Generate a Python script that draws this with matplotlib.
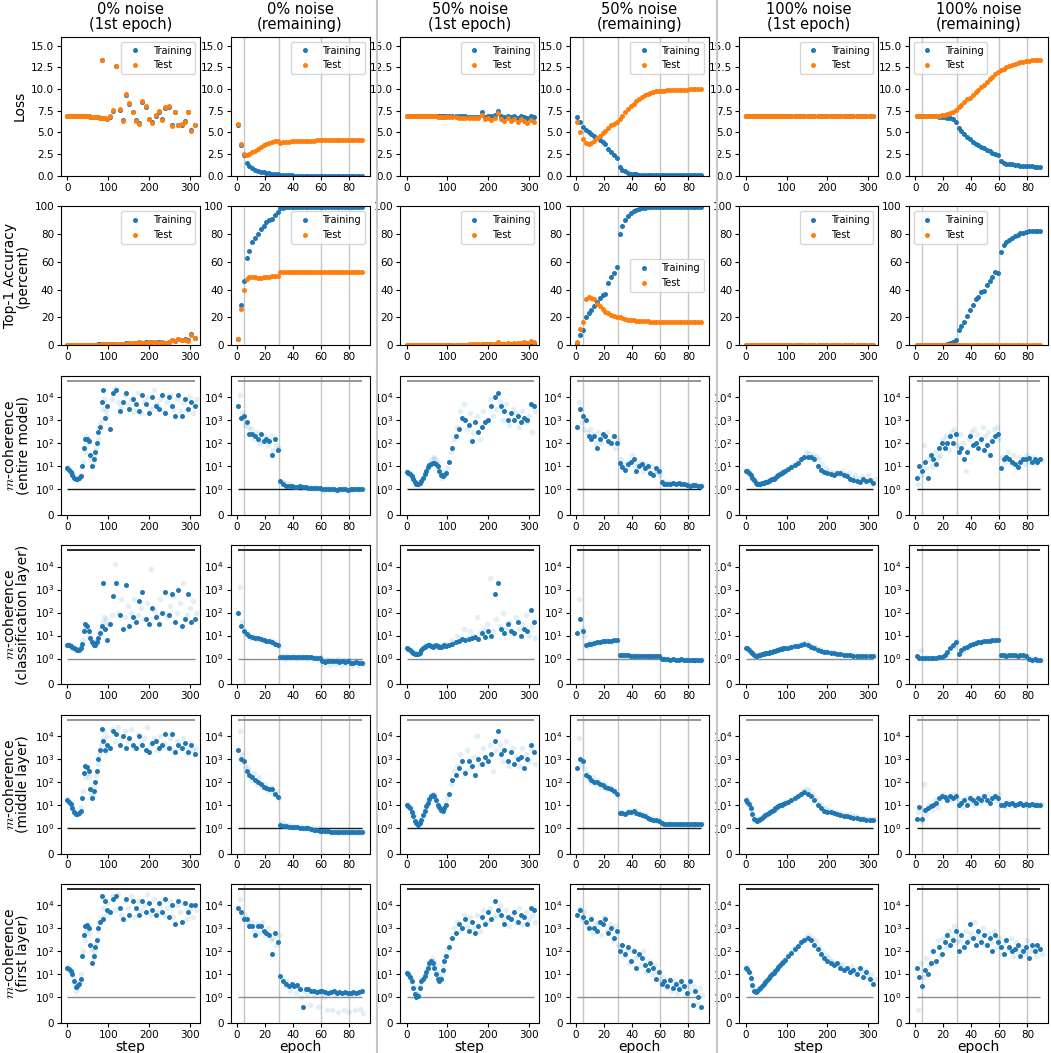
import matplotlib.pyplot as plt
import numpy as np

plt.rcParams['mathtext.fontset'] = 'cm'

# x grids: training steps in the 1st epoch, epochs afterwards
steps = list(range(0, 100, 4)) + list(range(104, 313, 8))
steps_mid = list(range(2, 100, 4)) + list(range(108, 317, 8))
epochs = list(range(1, 90, 2))
epochs_mid = list(range(2, 91, 2))
lr_epochs = [5, 30, 60, 80]
coh_floor = 1
coh_ceiling = 5e4

col_titles = ['0% noise\n(1st epoch)', '0% noise\n(remaining)',
              '50% noise\n(1st epoch)', '50% noise\n(remaining)',
              '100% noise\n(1st epoch)', '100% noise\n(remaining)']
row_labels = ['Loss', 'Top-1 Accuracy\n(percent)',
              '$m$-coherence\n(entire model)', '$m$-coherence\n(classification layer)',
              '$m$-coherence\n(middle layer)', '$m$-coherence\n(first layer)']

# ---------------- loss ----------------
loss_train_0_ep1 = [
    6.93, 6.93, 6.92, 6.92, 6.92, 6.91, 6.90, 6.90, 6.89, 6.88,
    6.87, 6.86, 6.85, 6.84, 6.82, 6.80, 6.78, 6.76, 6.74, 6.72,
    6.70, 13.3, 6.65, 6.60, 6.55, 6.80, 7.50, 12.7, 7.60, 6.40,
    9.30, 8.30, 7.30, 6.40, 6.10, 8.50, 7.90, 6.50, 6.20, 6.90,
    7.40, 6.50, 7.80, 7.90, 5.80, 7.30, 5.90, 5.90, 6.30, 7.30,
    5.30, 5.90]
loss_test_0_ep1 = [
    6.93, 6.93, 6.92, 6.92, 6.92, 6.91, 6.90, 6.90, 6.89, 6.88,
    6.87, 6.86, 6.85, 6.84, 6.82, 6.80, 6.78, 6.76, 6.74, 6.72,
    6.70, 13.3, 6.65, 6.60, 6.55, 6.90, 7.60, 12.7, 7.70, 6.30,
    9.40, 8.40, 7.40, 6.30, 6.00, 8.60, 8.00, 6.50, 6.10, 7.00,
    7.50, 6.40, 7.90, 8.00, 5.70, 7.40, 5.80, 6.00, 6.20, 7.40,
    5.20, 5.80]
loss_train_0_rest = [
    5.9, 3.5, 2.4, 1.5, 1.1, 0.9, 0.7, 0.55, 0.45, 0.38,
    0.32, 0.28, 0.25, 0.2, 0.15, 0.05, 0.04, 0.03, 0.03, 0.03,
    0.02, 0.02, 0.02, 0.02, 0.02, 0.02, 0.02, 0.02, 0.02, 0.02,
    0.02, 0.02, 0.02, 0.02, 0.02, 0.02, 0.02, 0.02, 0.02, 0.02,
    0.02, 0.02, 0.02, 0.02, 0.02]
loss_test_0_rest = [
    6.0, 3.7, 2.5, 2.4, 2.5, 2.7, 2.9, 3.1, 3.3, 3.5,
    3.6, 3.8, 3.9, 4.0, 4.05, 3.8, 3.85, 3.9, 3.92, 3.95,
    3.97, 4.0, 4.0, 4.02, 4.03, 4.05, 4.05, 4.06, 4.07, 4.08,
    4.1, 4.1, 4.1, 4.1, 4.1, 4.1, 4.1, 4.1, 4.1, 4.1,
    4.1, 4.1, 4.1, 4.1, 4.1]
loss_train_50_ep1 = [
    6.93, 6.93, 6.93, 6.93, 6.93, 6.92, 6.92, 6.92, 6.92, 6.92,
    6.92, 6.91, 6.91, 6.91, 6.91, 6.91, 6.90, 6.90, 6.90, 6.90,
    6.90, 6.89, 6.89, 6.89, 6.88, 6.88, 6.87, 6.86, 6.85, 6.84,
    6.83, 6.82, 6.80, 6.78, 6.80, 7.30, 6.80, 6.90, 6.85, 6.95,
    7.50, 6.90, 6.80, 6.90, 6.80, 6.90, 6.70, 6.90, 6.80, 6.70,
    6.90, 6.80]
loss_test_50_ep1 = [
    6.93, 6.93, 6.92, 6.92, 6.92, 6.91, 6.91, 6.90, 6.90, 6.89,
    6.88, 6.88, 6.87, 6.86, 6.86, 6.85, 6.84, 6.84, 6.83, 6.82,
    6.81, 6.80, 6.79, 6.78, 6.77, 6.75, 6.73, 6.72, 6.70, 6.68,
    6.66, 6.64, 6.62, 6.60, 6.60, 7.00, 6.50, 6.70, 6.40, 6.60,
    7.20, 6.50, 6.30, 6.60, 6.30, 6.50, 6.20, 6.50, 6.30, 6.10,
    6.40, 6.20]
loss_train_50_rest = [
    6.8, 6.2, 5.6, 5.3, 5.0, 4.8, 4.6, 4.4, 4.1, 3.9,
    3.7, 3.1, 2.7, 2.4, 2.1, 1.0, 0.7, 0.5, 0.35, 0.25,
    0.2, 0.15, 0.12, 0.1, 0.09, 0.08, 0.07, 0.06, 0.06, 0.05,
    0.04, 0.04, 0.04, 0.04, 0.04, 0.04, 0.04, 0.04, 0.04, 0.04,
    0.04, 0.04, 0.04, 0.04, 0.04]
loss_test_50_rest = [
    6.2, 5.0, 4.2, 3.8, 3.7, 3.8, 4.0, 4.3, 4.6, 4.9,
    5.2, 5.5, 5.8, 6.0, 6.2, 6.5, 6.9, 7.3, 7.7, 8.0,
    8.3, 8.6, 8.85, 9.05, 9.25, 9.4, 9.55, 9.65, 9.72, 9.78,
    9.8, 9.82, 9.84, 9.85, 9.87, 9.88, 9.9, 9.9, 9.92, 9.93,
    9.94, 9.95, 9.95, 9.95, 9.95]
loss_train_100_ep1 = [
    6.92, 6.92, 6.92, 6.92, 6.91, 6.91, 6.91, 6.91, 6.91, 6.91,
    6.91, 6.91, 6.91, 6.91, 6.91, 6.91, 6.91, 6.91, 6.91, 6.91,
    6.91, 6.91, 6.91, 6.91, 6.91, 6.91, 6.91, 6.91, 6.91, 6.91,
    6.91, 6.91, 6.91, 6.91, 6.91, 6.91, 6.91, 6.91, 6.91, 6.91,
    6.91, 6.91, 6.91, 6.91, 6.91, 6.91, 6.91, 6.91, 6.91, 6.91,
    6.91, 6.91]
loss_test_100_ep1 = [
    6.91, 6.91, 6.91, 6.91, 6.91, 6.91, 6.91, 6.91, 6.91, 6.91,
    6.91, 6.91, 6.91, 6.91, 6.91, 6.91, 6.91, 6.91, 6.91, 6.91,
    6.91, 6.91, 6.91, 6.91, 6.91, 6.91, 6.91, 6.91, 6.91, 6.91,
    6.91, 6.91, 6.91, 6.91, 6.91, 6.91, 6.91, 6.91, 6.91, 6.91,
    6.91, 6.91, 6.91, 6.91, 6.91, 6.91, 6.91, 6.91, 6.91, 6.91,
    6.91, 6.91]
loss_train_100_rest = [
    6.9, 6.9, 6.9, 6.9, 6.9, 6.9, 6.88, 6.85, 6.82, 6.8,
    6.75, 6.7, 6.6, 6.5, 6.2, 5.5, 5.1, 4.8, 4.5, 4.2,
    3.9, 3.7, 3.5, 3.3, 3.2, 3.0, 2.8, 2.6, 2.5, 2.4,
    1.7, 1.5, 1.4, 1.35, 1.3, 1.25, 1.2, 1.15, 1.12, 1.1,
    1.08, 1.07, 1.06, 1.05, 1.05]
loss_test_100_rest = [
    6.9, 6.9, 6.9, 6.9, 6.9, 6.9, 6.9, 6.9, 6.92, 7.0,
    7.05, 7.15, 7.25, 7.4, 7.6, 7.9, 8.2, 8.5, 8.8, 9.0,
    9.3, 9.6, 9.9, 10.2, 10.5, 10.8, 11.1, 11.4, 11.7, 12.0,
    12.2, 12.35, 12.5, 12.65, 12.8, 12.9, 13.0, 13.1, 13.15, 13.2,
    13.25, 13.3, 13.3, 13.3, 13.3]

# ---------------- top-1 accuracy ----------------
acc_train_0_ep1 = [
    0.1, 0.1, 0.1, 0.1, 0.1, 0.1, 0.2, 0.2, 0.2, 0.2,
    0.3, 0.3, 0.3, 0.4, 0.4, 0.4, 0.5, 0.5, 0.5, 0.6,
    0.6, 0.7, 0.7, 0.8, 0.8, 0.9, 1.0, 1.1, 1.2, 1.2,
    1.4, 1.5, 1.6, 1.7, 2.0, 1.9, 2.0, 2.6, 2.2, 2.4,
    2.1, 2.4, 1.8, 2.6, 3.5, 3.0, 4.2, 3.6, 4.2, 3.5,
    8.0, 5.2]
acc_test_0_ep1 = [
    0.1, 0.1, 0.1, 0.1, 0.1, 0.1, 0.1, 0.2, 0.2, 0.2,
    0.2, 0.3, 0.3, 0.3, 0.3, 0.4, 0.4, 0.4, 0.5, 0.5,
    0.5, 0.6, 0.6, 0.6, 0.7, 0.7, 0.8, 0.9, 1.0, 1.0,
    1.2, 1.3, 1.4, 1.5, 2.5, 1.6, 1.8, 2.5, 2.0, 2.3,
    1.9, 2.2, 1.5, 2.5, 3.8, 2.7, 4.5, 3.5, 4.0, 3.2,
    7.5, 5.0]
acc_train_0_rest = [
    4.5, 29, 46, 63, 68, 74, 77, 80, 84, 86,
    89, 90, 91, 94, 96, 98.5, 99, 99.3, 99.5, 99.6,
    99.6, 99.7, 99.7, 99.7, 99.7, 99.7, 99.7, 99.7, 99.7, 99.7,
    99.7, 99.7, 99.7, 99.7, 99.7, 99.7, 99.7, 99.7, 99.7, 99.7,
    99.7, 99.7, 99.7, 99.7, 99.7]
acc_test_0_rest = [
    4.5, 26, 40, 48, 49, 49, 49, 48.5, 48.5, 49,
    49, 49, 49.5, 49.5, 50, 52.5, 53, 53, 53, 53,
    53, 53, 53, 53, 53, 53, 53, 53, 53, 53,
    53, 53, 53, 53, 53, 53, 53, 53, 53, 53,
    53, 53, 53, 53, 53]
acc_train_50_ep1 = [
    0.1, 0.1, 0.1, 0.1, 0.1, 0.1, 0.1, 0.1, 0.1, 0.1,
    0.1, 0.1, 0.1, 0.1, 0.1, 0.2, 0.2, 0.2, 0.2, 0.2,
    0.2, 0.2, 0.2, 0.3, 0.3, 0.3, 0.3, 0.3, 0.4, 0.4,
    0.4, 0.4, 0.5, 0.5, 0.5, 0.6, 0.6, 0.6, 0.7, 0.8,
    1.5, 0.8, 0.9, 1.0, 0.9, 1.1, 1.2, 1.0, 1.3, 1.1,
    1.5, 1.2]
acc_test_50_ep1 = [
    0.1, 0.1, 0.1, 0.1, 0.1, 0.1, 0.1, 0.1, 0.1, 0.1,
    0.1, 0.1, 0.1, 0.1, 0.1, 0.2, 0.2, 0.2, 0.2, 0.2,
    0.2, 0.2, 0.3, 0.3, 0.3, 0.3, 0.4, 0.4, 0.5, 0.5,
    0.5, 0.6, 0.6, 0.7, 0.7, 0.8, 0.8, 0.9, 0.9, 1.0,
    2.0, 1.0, 1.2, 1.3, 1.1, 1.5, 1.6, 1.3, 2.2, 1.5,
    3.0, 2.0]
acc_train_50_rest = [
    1, 7, 11, 20, 23, 25, 28, 31, 34, 36,
    37, 45, 49, 52, 56, 80, 86, 90, 93, 95,
    96.5, 97.5, 98, 98.5, 99, 99.2, 99.2, 99.3, 99.3, 99.3,
    99.4, 99.4, 99.4, 99.4, 99.4, 99.5, 99.5, 99.5, 99.5, 99.5,
    99.5, 99.5, 99.5, 99.5, 99.5]
acc_test_50_rest = [
    2, 12, 17, 33, 35, 34, 33, 30, 28, 26,
    24, 23, 22, 21, 20, 20, 19.5, 19, 18.5, 18,
    17.8, 17.6, 17.5, 17.3, 17.2, 17.1, 17, 17, 17, 17,
    17, 17, 17, 17, 17, 17, 17, 17, 17, 17,
    17, 17, 17, 17, 17]
acc_train_100_ep1 = [
    0.1, 0.1, 0.1, 0.1, 0.1, 0.1, 0.1, 0.1, 0.1, 0.1,
    0.1, 0.1, 0.1, 0.1, 0.1, 0.1, 0.1, 0.1, 0.1, 0.1,
    0.1, 0.1, 0.1, 0.1, 0.1, 0.1, 0.1, 0.1, 0.1, 0.1,
    0.1, 0.1, 0.1, 0.1, 0.1, 0.1, 0.1, 0.1, 0.1, 0.1,
    0.1, 0.1, 0.1, 0.1, 0.1, 0.1, 0.1, 0.1, 0.1, 0.1,
    0.1, 0.1]
acc_test_100_ep1 = [
    0.1, 0.1, 0.1, 0.1, 0.1, 0.1, 0.1, 0.1, 0.1, 0.1,
    0.1, 0.1, 0.1, 0.1, 0.1, 0.1, 0.1, 0.1, 0.1, 0.1,
    0.1, 0.1, 0.1, 0.1, 0.1, 0.1, 0.1, 0.1, 0.1, 0.1,
    0.1, 0.1, 0.1, 0.1, 0.1, 0.1, 0.1, 0.1, 0.1, 0.1,
    0.1, 0.1, 0.1, 0.1, 0.1, 0.1, 0.1, 0.1, 0.1, 0.1,
    0.1, 0.1]
acc_train_100_rest = [
    0.1, 0.1, 0.1, 0.1, 0.1, 0.1, 0.1, 0.1, 0.1, 0.1,
    0.5, 1, 1.5, 2, 4, 11, 14, 17, 21, 25,
    29, 33, 35, 38, 39, 43, 46, 49, 53, 52,
    67, 72, 74, 76, 77, 78.5, 79.5, 80.5, 81, 81.5,
    82, 82, 82.3, 82.5, 82.5]
acc_test_100_rest = [
    0.1, 0.1, 0.1, 0.1, 0.1, 0.1, 0.1, 0.1, 0.1, 0.1,
    0.1, 0.1, 0.1, 0.1, 0.1, 0.1, 0.1, 0.1, 0.1, 0.1,
    0.1, 0.1, 0.1, 0.1, 0.1, 0.1, 0.1, 0.1, 0.1, 0.1,
    0.1, 0.1, 0.1, 0.1, 0.1, 0.1, 0.1, 0.1, 0.1, 0.1,
    0.1, 0.1, 0.1, 0.1, 0.1]

# ---------------- m-coherence (log10), dark = mean, lt = faint samples ----------------
# entire model
coh_model_0_ep1 = [
    0.9, 0.85, 0.75, 0.6, 0.5, 0.45, 0.45, 0.5, 0.55, 1.0,
    1.8, 2.2, 2.2, 2.1, 1.5, 1.0, 1.3, 1.6, 2.0, 2.5,
    2.7, 3.8, 4.3, 3.1, 3.6, 2.6, 4.2, 4.3, 3.4, 3.8,
    4.2, 3.5, 3.9, 3.7, 3.4, 4.1, 3.7, 3.3, 4.0, 3.6,
    3.5, 4.1, 3.3, 4.0, 3.6, 3.2, 4.1, 3.2, 3.9, 3.5,
    3.8, 3.6]
coh_model_0_ep1_lt = [
    0.95, 0.8, 0.7, 0.65, 0.45, 0.5, 0.4, 0.55, 0.6, 1.2,
    1.6, 2.3, 2.0, 2.2, 1.3, 1.1, 1.5, 1.8, 2.2, 2.7,
    2.9, 3.5, 3.9, 3.4, 3.2, 3.9, 4.4, 3.8, 3.6, 4.1,
    3.7, 3.9, 3.4, 4.2, 3.3, 3.8, 4.0, 3.5, 4.3, 3.7,
    3.9, 3.4, 3.8, 4.1, 3.5, 3.9, 3.4, 3.8, 3.5, 4.0,
    3.3, 3.9]
coh_model_0_rest = [
    3.6, 3.1, 3.2, 2.9, 2.4, 2.4, 2.3, 2.2, 2.4, 2.1,
    2.2, 2.1, 1.5, 2.2, 1.7, 0.35, 0.2, 0.15, 0.15, 0.12,
    0.1, 0.1, 0.12, 0.08, 0.1, 0.05, 0.05, 0.05, 0.03, 0.03,
    0.0, 0.02, 0.0, 0.01, 0.0, -0.01, 0.0, 0.01, 0.0, -0.01,
    0.0, 0.01, 0.0, 0.0, 0.02]
coh_model_0_rest_lt = [
    4.1, 3.3, 2.8, 2.7, 2.6, 2.2, 2.5, 2.0, 2.1, 2.3,
    1.9, 2.3, 1.7, 1.9, 1.8, 0.3, 0.25, 0.1, 0.2, 0.15,
    0.08, 0.15, 0.05, 0.12, 0.06, 0.1, 0.02, 0.08, 0.0, 0.05,
    -0.03, 0.04, -0.02, 0.03, -0.03, 0.02, -0.02, 0.03, -0.02, 0.02,
    -0.03, 0.03, -0.02, 0.02, 0.0]
coh_model_50_ep1 = [
    0.75, 0.72, 0.65, 0.55, 0.42, 0.3, 0.22, 0.2, 0.25, 0.35,
    0.5, 0.65, 0.8, 0.95, 1.05, 1.1, 1.15, 1.15, 1.1, 1.0,
    0.8, 0.6, 0.55, 0.6, 0.7, 1.2, 1.8, 2.3, 2.6, 3.1,
    3.0, 2.8, 2.1, 2.9, 2.5, 2.7, 2.9, 3.0, 3.6, 4.0,
    4.2, 3.6, 3.4, 3.0, 3.3, 3.0, 3.2, 2.9, 3.1, 3.0,
    3.7, 3.6]
coh_model_50_ep1_lt = [
    0.8, 0.7, 0.68, 0.5, 0.45, 0.28, 0.25, 0.18, 0.28, 0.4,
    0.55, 0.7, 0.85, 1.0, 1.15, 1.3, 1.4, 1.3, 1.2, 0.9,
    0.7, 0.5, 0.6, 0.75, 0.9, 1.6, 2.2, 2.7, 3.4, 3.7,
    2.6, 3.3, 2.5, 3.2, 2.2, 3.4, 3.0, 3.9, 3.2, 3.5,
    3.8, 3.0, 3.7, 2.8, 3.5, 3.3, 2.7, 3.4, 2.9, 3.2,
    2.5, 3.4]
coh_model_50_rest = [
    2.7, 3.5, 3.2, 3.0, 2.3, 2.2, 2.3, 1.8, 2.2, 2.4,
    2.3, 2.1, 2.0, 2.3, 2.0, 1.15, 0.95, 0.85, 1.1, 1.2,
    1.3, 0.8, 1.0, 1.1, 0.9, 1.0, 0.7, 0.6, 0.9, 0.8,
    0.3, 0.22, 0.2, 0.22, 0.25, 0.22, 0.25, 0.2, 0.22, 0.18,
    0.15, 0.17, 0.16, 0.15, 0.15]
coh_model_50_rest_lt = [
    3.8, 2.9, 2.6, 2.5, 2.6, 2.4, 2.0, 2.5, 2.0, 2.3,
    2.5, 2.0, 2.3, 1.8, 2.2, 1.3, 1.1, 0.9, 1.2, 1.5,
    1.0, 1.1, 1.2, 0.8, 1.1, 0.8, 1.0, 0.7, 0.8, 0.6,
    0.35, 0.25, 0.3, 0.2, 0.28, 0.2, 0.26, 0.22, 0.2, 0.2,
    0.18, 0.15, 0.18, 0.14, 0.16]
coh_model_100_ep1 = [
    0.8, 0.78, 0.72, 0.62, 0.5, 0.38, 0.28, 0.22, 0.2, 0.22,
    0.25, 0.28, 0.3, 0.33, 0.36, 0.4, 0.42, 0.45, 0.5, 0.55,
    0.6, 0.65, 0.7, 0.75, 0.8, 0.88, 0.95, 1.05, 1.15, 1.3,
    1.4, 1.4, 1.38, 1.3, 1.0, 0.85, 0.75, 0.7, 0.65, 0.6,
    0.7, 0.7, 0.6, 0.55, 0.45, 0.4, 0.35, 0.3, 0.45, 0.35,
    0.4, 0.25]
coh_model_100_ep1_lt = [
    0.82, 0.75, 0.7, 0.6, 0.48, 0.36, 0.3, 0.24, 0.22, 0.25,
    0.27, 0.3, 0.33, 0.36, 0.4, 0.43, 0.46, 0.5, 0.55, 0.6,
    0.65, 0.7, 0.75, 0.8, 0.85, 0.95, 1.05, 1.15, 1.25, 1.4,
    1.6, 1.55, 1.5, 1.45, 1.3, 1.1, 0.9, 0.8, 0.7, 0.75,
    0.6, 0.8, 0.65, 0.7, 0.5, 0.6, 0.45, 0.55, 0.35, 0.6,
    0.3, 0.45]
coh_model_100_rest = [
    0.5, 1.0, 0.8, 1.2, 0.5, 1.5, 1.3, 1.1, 1.8, 2.0,
    1.8, 2.0, 2.3, 2.0, 2.4, 1.6, 1.8, 1.3, 1.6, 2.3,
    1.9, 2.0, 1.8, 2.2, 1.7, 1.9, 1.5, 2.1, 2.3, 2.4,
    0.9, 1.3, 1.4, 1.3, 1.2, 1.1, 0.95, 1.2, 1.3, 1.3,
    1.35, 1.2, 1.3, 1.2, 1.3]
coh_model_100_rest_lt = [
    0.2, 0.6, 1.9, 0.9, 1.3, 1.0, 1.6, 1.4, 1.5, 2.2,
    2.3, 1.7, 2.5, 2.6, 1.9, 2.4, 2.0, 0.8, 2.2, 2.5,
    2.6, 2.4, 2.1, 2.7, 2.3, 2.5, 2.1, 2.6, 2.7, 2.2,
    1.4, 1.2, 1.6, 1.1, 1.5, 1.0, 1.4, 1.3, 1.1, 1.5,
    1.2, 1.4, 1.1, 1.3, 1.25]

# classification layer
coh_cls_0_ep1 = [
    0.6, 0.58, 0.55, 0.5, 0.45, 0.4, 0.35, 0.35, 0.45, 0.65,
    1.2, 1.5, 1.4, 1.2, 0.9, 0.7, 0.6, 0.6, 0.7, 0.9,
    1.1, 1.4, 3.3, 1.3, 0.8, 1.5, 2.7, 3.3, 1.9, 1.3,
    3.2, 1.4, 1.8, 1.6, 2.5, 2.9, 1.7, 1.5, 2.2, 1.8,
    1.5, 2.0, 2.9, 1.9, 2.8, 1.6, 3.0, 1.4, 1.7, 2.8,
    1.6, 1.7]
coh_cls_0_ep1_lt = [
    0.62, 0.6, 0.52, 0.48, 0.42, 0.38, 0.38, 0.4, 0.5, 0.8,
    1.3, 1.4, 1.3, 1.0, 0.8, 0.65, 0.7, 0.75, 0.9, 1.1,
    1.3, 1.6, 1.8, 1.7, 1.5, 1.9, 4.1, 2.0, 2.6, 1.8,
    2.3, 2.0, 2.6, 1.9, 2.2, 1.7, 2.4, 3.9, 2.1, 1.9,
    2.6, 2.0, 1.8, 2.3, 2.7, 2.0, 2.4, 3.3, 1.9, 2.2,
    2.5, 2.0]
coh_cls_0_rest = [
    2.0, 1.4, 1.2, 1.05, 1.0, 0.95, 0.9, 0.88, 0.85, 0.82,
    0.78, 0.75, 0.7, 0.65, 0.6, 0.05, 0.06, 0.05, 0.08, 0.06,
    0.05, 0.07, 0.06, 0.05, 0.06, 0.05, 0.05, 0.04, 0.03, 0.03,
    -0.05, -0.06, -0.05, -0.05, -0.04, -0.05, -0.06, -0.05, -0.06, -0.05,
    -0.08, -0.08, -0.07, -0.08, -0.08]
coh_cls_0_rest_lt = [
    3.1, 1.6, 1.1, 1.1, 0.9, 1.0, 0.85, 0.9, 0.8, 0.85,
    0.75, 0.8, 0.65, 0.7, 0.55, 0.1, 0.0, 0.12, 0.02, 0.1,
    0.0, 0.12, 0.01, 0.1, 0.0, 0.08, 0.0, 0.06, -0.02, 0.05,
    -0.12, 0.0, -0.12, -0.02, -0.1, 0.0, -0.12, -0.02, -0.1, -0.03,
    -0.12, -0.05, -0.12, -0.05, -0.1]
coh_cls_50_ep1 = [
    0.45, 0.42, 0.35, 0.3, 0.25, 0.2, 0.18, 0.2, 0.25, 0.35,
    0.45, 0.5, 0.55, 0.6, 0.58, 0.55, 0.5, 0.55, 0.6, 0.55,
    0.5, 0.5, 0.55, 0.6, 0.55, 0.6, 0.65, 0.7, 0.75, 0.85,
    0.8, 0.85, 0.9, 0.95, 0.85, 1.1, 0.95, 1.2, 1.0, 2.8,
    3.3, 1.3, 1.1, 1.5, 1.2, 1.1, 1.6, 1.0, 1.3, 1.2,
    2.1, 1.6]
coh_cls_50_ep1_lt = [
    0.48, 0.4, 0.38, 0.28, 0.27, 0.22, 0.2, 0.22, 0.3, 0.4,
    0.5, 0.55, 0.6, 0.65, 0.6, 0.5, 0.55, 0.6, 0.55, 0.5,
    0.55, 0.6, 0.5, 0.65, 0.6, 0.8, 0.7, 1.0, 0.8, 1.3,
    0.9, 1.2, 1.0, 1.8, 1.1, 1.3, 1.5, 3.5, 1.2, 1.7,
    1.4, 2.0, 1.3, 1.6, 1.1, 1.8, 1.3, 1.5, 1.9, 1.0,
    1.4, 0.9]
coh_cls_50_rest = [
    1.1, 1.7, 1.2, 0.6, 0.65, 0.65, 0.68, 0.7, 0.72, 0.75,
    0.75, 0.75, 0.78, 0.8, 0.8, 0.15, 0.15, 0.14, 0.14, 0.13,
    0.12, 0.12, 0.12, 0.12, 0.11, 0.1, 0.1, 0.1, 0.1, 0.1,
    0.0, -0.01, -0.01, -0.02, -0.01, -0.02, -0.02, -0.01, -0.02, -0.02,
    -0.03, -0.02, -0.03, -0.03, -0.03]
coh_cls_50_rest_lt = [
    2.6, 1.3, 1.0, 0.5, 0.7, 0.6, 0.72, 0.68, 0.75, 0.7,
    0.8, 0.72, 0.8, 0.75, 0.82, 0.17, 0.13, 0.16, 0.12, 0.15,
    0.1, 0.14, 0.1, 0.13, 0.09, 0.12, 0.08, 0.11, 0.08, 0.1,
    0.02, -0.02, 0.01, -0.03, 0.0, -0.03, 0.0, -0.02, -0.01, -0.03,
    -0.02, -0.04, -0.02, -0.04, -0.03]
coh_cls_100_ep1 = [
    0.45, 0.44, 0.38, 0.3, 0.22, 0.15, 0.12, 0.12, 0.15, 0.17,
    0.19, 0.21, 0.22, 0.24, 0.26, 0.28, 0.3, 0.32, 0.34, 0.36,
    0.38, 0.4, 0.42, 0.44, 0.46, 0.48, 0.5, 0.53, 0.56, 0.6,
    0.62, 0.58, 0.5, 0.45, 0.38, 0.32, 0.3, 0.28, 0.25, 0.22,
    0.2, 0.18, 0.16, 0.15, 0.14, 0.12, 0.12, 0.11, 0.1, 0.1,
    0.1, 0.1]
coh_cls_100_ep1_lt = [
    0.48, 0.42, 0.36, 0.28, 0.2, 0.14, 0.13, 0.14, 0.16, 0.18,
    0.2, 0.22, 0.24, 0.26, 0.28, 0.3, 0.32, 0.34, 0.36, 0.38,
    0.4, 0.42, 0.44, 0.46, 0.48, 0.52, 0.55, 0.58, 0.62, 0.66,
    0.7, 0.64, 0.56, 0.5, 0.42, 0.36, 0.33, 0.3, 0.27, 0.24,
    0.22, 0.2, 0.18, 0.17, 0.16, 0.14, 0.13, 0.12, 0.12, 0.11,
    0.11, 0.11]
coh_cls_100_rest = [
    0.1, 0.03, 0.02, 0.02, 0.02, 0.02, 0.03, 0.03, 0.05, 0.08,
    0.15, 0.3, 0.45, 0.6, 0.7, 0.2, 0.35, 0.45, 0.5, 0.58,
    0.62, 0.66, 0.7, 0.72, 0.75, 0.77, 0.78, 0.8, 0.8, 0.82,
    0.15, 0.15, 0.13, 0.15, 0.14, 0.15, 0.13, 0.15, 0.14, 0.12,
    0.0, -0.02, 0.0, -0.03, -0.03]
coh_cls_100_rest_lt = [
    0.05, 0.35, 0.0, 0.05, 0.0, 0.04, 0.01, 0.05, 0.03, 0.1,
    0.2, 0.25, 0.5, 0.55, 0.75, 0.25, 0.3, 0.5, 0.55, 0.6,
    0.65, 0.7, 0.68, 0.75, 0.78, 0.75, 0.8, 0.78, 0.84, 0.8,
    0.17, 0.12, 0.16, 0.12, 0.16, 0.13, 0.16, 0.12, 0.15, 0.1,
    0.02, -0.04, 0.01, -0.04, -0.02]

# middle layer
coh_mid_0_ep1 = [
    1.2, 1.15, 1.05, 0.85, 0.7, 0.6, 0.6, 0.65, 0.75, 1.3,
    2.4, 2.7, 2.65, 2.5, 1.7, 1.3, 1.6, 2.0, 2.5, 3.0,
    3.4, 4.3, 3.8, 3.4, 3.6, 3.5, 4.2, 4.1, 3.6, 4.0,
    3.5, 3.9, 3.6, 3.5, 4.0, 3.6, 3.4, 3.3, 3.7, 3.8,
    3.5, 3.6, 4.1, 3.5, 4.1, 3.3, 3.6, 3.5, 3.7, 3.3,
    3.6, 3.2]
coh_mid_0_ep1_lt = [
    1.25, 1.1, 1.0, 0.8, 0.65, 0.62, 0.58, 0.7, 0.9, 1.6,
    2.2, 2.6, 2.4, 2.2, 1.5, 1.4, 1.8, 2.3, 2.8, 3.2,
    3.6, 3.9, 4.2, 3.3, 4.0, 4.3, 3.8, 4.4, 3.9, 4.2,
    3.8, 4.3, 3.5, 4.1, 3.7, 3.9, 4.4, 3.6, 3.9, 3.4,
    4.0, 3.7, 3.5, 3.9, 3.4, 3.8, 3.5, 3.9, 3.2, 3.7,
    3.4, 3.5]
coh_mid_0_rest = [
    3.4, 3.0, 2.9, 2.5, 2.3, 2.2, 2.1, 2.0, 1.9, 1.8,
    1.75, 1.7, 1.7, 1.5, 1.35, 0.12, 0.1, 0.1, 0.05, 0.05,
    0.05, 0.03, 0.02, 0.02, 0.0, 0.0, -0.02, -0.03, -0.04, -0.05,
    -0.05, -0.06, -0.06, -0.07, -0.07, -0.08, -0.08, -0.08, -0.08, -0.08,
    -0.08, -0.08, -0.08, -0.08, -0.08]
coh_mid_0_rest_lt = [
    4.2, 3.2, 2.7, 2.6, 2.1, 2.4, 1.9, 2.2, 1.8, 1.9,
    1.6, 1.8, 1.5, 1.6, 1.3, 0.2, 0.15, 0.08, 0.12, 0.02,
    0.1, 0.0, 0.08, -0.01, 0.05, -0.03, 0.04, -0.05, 0.02, -0.06,
    0.0, -0.08, -0.02, -0.1, -0.03, -0.1, -0.04, -0.1, -0.03, -0.1,
    -0.04, -0.1, -0.05, -0.1, -0.05]
coh_mid_50_ep1 = [
    1.0, 0.95, 0.85, 0.7, 0.5, 0.3, 0.2, 0.15, 0.2, 0.35,
    0.55, 0.75, 0.95, 1.1, 1.25, 1.4, 1.45, 1.4, 1.2, 1.0,
    0.9, 0.8, 0.75, 0.85, 1.0, 1.5, 2.1, 2.3, 2.6, 2.9,
    2.4, 2.9, 2.7, 2.3, 3.0, 2.8, 3.1, 2.9, 3.2, 3.8,
    4.2, 3.2, 3.4, 2.9, 3.3, 2.8, 3.0, 3.1, 2.6, 3.0,
    3.6, 3.3]
coh_mid_50_ep1_lt = [
    1.05, 0.9, 0.88, 0.65, 0.55, 0.28, 0.22, 0.18, 0.25, 0.4,
    0.6, 0.8, 1.0, 1.2, 1.35, 1.5, 1.5, 1.3, 1.1, 0.9,
    0.8, 0.7, 0.9, 1.1, 1.3, 1.9, 2.5, 2.7, 3.2, 2.5,
    3.4, 2.6, 3.1, 4.0, 2.8, 3.5, 2.9, 3.6, 2.5, 3.4,
    3.6, 2.9, 3.8, 2.7, 3.5, 3.1, 2.7, 3.5, 3.2, 2.9,
    3.4, 2.8]
coh_mid_50_rest = [
    2.6, 3.0, 2.9, 2.3, 2.2, 2.1, 2.0, 2.0, 1.9, 1.85,
    1.8, 1.75, 1.7, 1.6, 1.5, 0.65, 0.65, 0.6, 0.7, 0.7,
    0.75, 0.65, 0.6, 0.55, 0.5, 0.45, 0.4, 0.35, 0.35, 0.3,
    0.2, 0.18, 0.18, 0.18, 0.17, 0.17, 0.17, 0.17, 0.17, 0.16,
    0.16, 0.17, 0.16, 0.16, 0.16]
coh_mid_50_rest_lt = [
    3.9, 2.8, 2.6, 2.4, 2.0, 2.2, 1.9, 2.1, 1.8, 1.95,
    1.7, 1.8, 1.6, 1.65, 1.4, 0.7, 0.6, 0.65, 0.75, 0.65,
    0.8, 0.6, 0.65, 0.5, 0.55, 0.4, 0.45, 0.3, 0.4, 0.25,
    0.22, 0.16, 0.2, 0.16, 0.19, 0.15, 0.19, 0.15, 0.18, 0.15,
    0.18, 0.15, 0.18, 0.15, 0.17]
coh_mid_100_ep1 = [
    1.2, 1.15, 1.05, 0.85, 0.6, 0.4, 0.35, 0.3, 0.35, 0.4,
    0.45, 0.5, 0.55, 0.6, 0.65, 0.7, 0.75, 0.8, 0.85, 0.9,
    0.95, 1.0, 1.0, 1.05, 1.1, 1.15, 1.2, 1.3, 1.4, 1.5,
    1.55, 1.5, 1.4, 1.2, 1.0, 0.85, 0.75, 0.7, 0.68, 0.65,
    0.6, 0.55, 0.52, 0.5, 0.48, 0.45, 0.42, 0.4, 0.38, 0.35,
    0.35, 0.35]
coh_mid_100_ep1_lt = [
    1.25, 1.1, 1.0, 0.8, 0.55, 0.38, 0.3, 0.32, 0.38, 0.42,
    0.48, 0.52, 0.58, 0.62, 0.68, 0.72, 0.78, 0.82, 0.88, 0.92,
    0.98, 1.02, 1.05, 1.1, 1.15, 1.2, 1.28, 1.38, 1.48, 1.6,
    1.7, 1.65, 1.5, 1.3, 1.1, 0.95, 0.85, 0.78, 0.72, 0.7,
    0.65, 0.6, 0.58, 0.55, 0.52, 0.5, 0.48, 0.45, 0.42, 0.4,
    0.4, 0.38]
coh_mid_100_rest = [
    0.4, 0.9, 0.4, 0.8, 0.85, 0.95, 1.0, 1.1, 1.3, 1.4,
    1.35, 1.2, 1.4, 1.3, 1.4, 1.0, 1.1, 1.2, 1.0, 1.3,
    1.2, 1.1, 1.3, 1.2, 1.4, 1.2, 1.1, 1.3, 1.4, 1.3,
    1.0, 1.0, 1.1, 1.05, 1.1, 1.0, 1.05, 1.1, 1.0, 1.05,
    1.0, 1.05, 1.02, 1.0, 1.0]
coh_mid_100_rest_lt = [
    0.7, 0.3, 1.9, 0.6, 1.0, 0.8, 1.2, 0.9, 1.2, 1.5,
    1.2, 1.4, 1.2, 1.5, 1.3, 1.1, 0.9, 1.3, 1.1, 1.4,
    1.0, 1.3, 1.1, 1.4, 1.2, 1.5, 1.2, 1.4, 1.2, 1.5,
    1.1, 0.9, 1.15, 0.95, 1.1, 0.95, 1.1, 1.0, 1.1, 0.95,
    1.05, 0.95, 1.1, 0.95, 1.05]

# first layer
coh_first_0_ep1 = [
    1.3, 1.25, 1.15, 1.0, 0.7, 0.45, 0.5, 0.6, 0.8, 1.8,
    2.7, 3.1, 3.15, 3.0, 2.3, 1.5, 1.8, 2.2, 2.5, 3.0,
    3.3, 4.4, 3.4, 4.2, 3.8, 3.7, 4.3, 4.4, 3.9, 3.4,
    4.3, 3.6, 4.2, 3.9, 3.6, 4.2, 3.7, 4.1, 3.8, 3.6,
    4.1, 3.7, 4.3, 3.5, 4.0, 3.2, 4.2, 3.3, 4.1, 3.7,
    4.0, 4.0]
coh_first_0_ep1_lt = [
    1.35, 1.2, 1.1, 0.95, 0.6, 0.3, 0.4, 0.7, 1.0, 2.0,
    2.5, 2.9, 3.0, 2.8, 2.1, 1.7, 2.0, 2.4, 2.9, 3.3,
    3.5, 3.9, 4.3, 3.6, 4.1, 4.4, 3.8, 4.5, 3.6, 4.2,
    3.9, 4.4, 3.5, 4.2, 3.8, 4.0, 4.5, 3.6, 4.3, 3.7,
    4.0, 3.6, 3.9, 4.2, 3.5, 4.0, 3.7, 4.1, 3.4, 3.9,
    3.5, 3.8]
coh_first_0_rest = [
    3.9, 3.7, 3.4, 3.4, 3.1, 3.1, 2.7, 3.1, 3.1, 2.9,
    2.8, 2.7, 1.9, 2.8, 2.4, 0.95, 0.7, 0.6, 0.5, 0.6,
    0.5, 0.55, 0.35, -0.2, 0.35, 0.35, 0.3, 0.3, 0.25, 0.3,
    0.3, 0.25, 0.2, 0.25, 0.3, 0.2, 0.25, 0.2, 0.25, 0.2,
    0.2, 0.25, 0.2, 0.25, 0.3]
coh_first_0_rest_lt = [
    4.3, 3.5, 3.6, 3.2, 3.3, 2.9, 3.2, 2.8, 3.3, 2.7,
    3.0, 2.5, 2.6, 2.3, 2.7, 0.8, 0.5, 0.7, 0.3, 0.5,
    0.2, 0.4, 0.0, 0.3, 0.1, -0.15, 0.3, 0.1, -0.2, 0.2,
    0.0, -0.3, 0.25, -0.3, 0.1, -0.35, 0.2, -0.3, 0.1, -0.35,
    0.15, -0.3, 0.2, -0.25, -0.4]
coh_first_50_ep1 = [
    1.05, 1.0, 0.9, 0.7, 0.4, 0.15, 0.0, 0.05, 0.4, 0.7,
    0.8, 0.95, 1.1, 1.3, 1.5, 1.6, 1.5, 1.3, 1.0, 0.8,
    0.7, 0.8, 1.2, 1.6, 1.8, 2.2, 2.6, 2.8, 3.2, 3.0,
    3.4, 2.9, 3.3, 2.8, 3.1, 3.5, 3.2, 3.7, 3.4, 4.2,
    3.8, 3.6, 3.2, 3.5, 3.4, 3.7, 3.3, 3.6, 3.5, 3.2,
    3.9, 3.8]
coh_first_50_ep1_lt = [
    1.1, 0.95, 0.85, 0.65, 0.45, 0.2, 0.1, 0.15, 0.5, 0.75,
    0.85, 1.0, 1.2, 1.4, 1.6, 1.7, 1.6, 1.4, 1.1, 0.9,
    0.85, 1.0, 1.4, 1.8, 2.1, 2.6, 3.0, 3.3, 2.9, 3.6,
    3.1, 3.5, 3.0, 3.6, 2.9, 3.8, 3.3, 3.9, 3.5, 3.6,
    4.0, 3.4, 3.8, 3.1, 3.6, 3.3, 3.9, 3.2, 3.7, 3.4,
    3.6, 3.3]
coh_first_50_rest = [
    3.6, 3.8, 3.5, 3.3, 3.0, 3.4, 3.0, 2.9, 3.3, 3.2,
    3.4, 2.8, 3.0, 2.6, 2.9, 2.0, 2.3, 1.9, 2.2, 1.6,
    2.0, 1.3, 1.9, 1.7, 1.4, 1.2, 1.5, 1.3, 0.8, 1.1,
    0.6, 0.7, 0.5, 0.75, 0.4, 0.6, 0.35, 0.7, 0.5, 0.2,
    0.7, -0.15, 0.3, 0.0, -0.2]
coh_first_50_rest_lt = [
    3.9, 3.4, 3.7, 3.1, 3.5, 2.8, 3.2, 3.3, 2.7, 3.5,
    2.9, 3.2, 2.5, 3.1, 2.3, 2.3, 1.8, 2.1, 1.5, 2.0,
    1.7, 1.8, 1.4, 2.0, 1.1, 1.6, 1.0, 1.4, 1.1, 0.7,
    0.9, 0.4, 0.8, 0.3, 0.7, 0.2, 0.6, 0.4, 0.1, 0.5,
    0.3, 0.5, -0.1, 0.4, 0.1]
coh_first_100_ep1 = [
    1.3, 1.25, 1.1, 0.85, 0.55, 0.3, 0.25, 0.28, 0.35, 0.42,
    0.5, 0.58, 0.66, 0.75, 0.83, 0.92, 1.0, 1.08, 1.16, 1.24,
    1.32, 1.4, 1.48, 1.56, 1.64, 1.8, 1.95, 2.1, 2.25, 2.4,
    2.5, 2.6, 2.5, 2.3, 2.1, 1.9, 1.7, 1.6, 1.5, 1.4,
    1.5, 1.3, 1.2, 1.3, 1.1, 1.2, 1.0, 1.3, 0.9, 1.1,
    0.8, 0.6]
coh_first_100_ep1_lt = [
    1.35, 1.2, 1.05, 0.8, 0.5, 0.28, 0.27, 0.3, 0.38, 0.45,
    0.53, 0.62, 0.7, 0.8, 0.88, 0.97, 1.05, 1.13, 1.2, 1.3,
    1.38, 1.46, 1.54, 1.62, 1.7, 1.88, 2.05, 2.2, 2.35, 2.5,
    2.65, 2.7, 2.6, 2.45, 2.2, 2.0, 1.85, 1.7, 1.6, 1.5,
    1.4, 1.45, 1.3, 1.2, 1.35, 1.0, 1.25, 1.1, 1.2, 0.9,
    1.0, 0.8]
coh_first_100_rest = [
    1.3, 0.9, 0.5, 1.2, 1.0, 1.5, 2.0, 1.6, 2.2, 1.9,
    2.4, 2.7, 2.3, 2.5, 2.9, 2.0, 2.7, 2.2, 2.4, 3.2,
    2.6, 2.3, 2.9, 2.4, 2.7, 2.3, 2.6, 2.0, 2.7, 2.4,
    2.2, 1.9, 2.5, 2.2, 2.0, 2.1, 2.3, 1.8, 2.0, 2.2,
    1.7, 2.3, 2.0, 2.3, 2.1]
coh_first_100_rest_lt = [
    -0.3, 1.5, 0.9, 1.7, 1.4, 2.0, 1.5, 2.5, 1.8, 2.6,
    2.2, 2.9, 2.6, 3.1, 2.4, 2.5, 2.2, 2.9, 2.6, 2.8,
    3.3, 2.7, 2.5, 3.0, 2.3, 2.8, 2.4, 2.9, 2.2, 2.6,
    1.9, 2.4, 2.1, 2.6, 1.8, 2.4, 2.0, 2.2, 1.9, 2.5,
    2.0, 2.1, 1.8, 2.2, 1.9]

# ---------------- assemble per panel ----------------
loss_train = [loss_train_0_ep1, loss_train_0_rest, loss_train_50_ep1,
              loss_train_50_rest, loss_train_100_ep1, loss_train_100_rest]
loss_test = [loss_test_0_ep1, loss_test_0_rest, loss_test_50_ep1,
             loss_test_50_rest, loss_test_100_ep1, loss_test_100_rest]
acc_train = [acc_train_0_ep1, acc_train_0_rest, acc_train_50_ep1,
             acc_train_50_rest, acc_train_100_ep1, acc_train_100_rest]
acc_test = [acc_test_0_ep1, acc_test_0_rest, acc_test_50_ep1,
            acc_test_50_rest, acc_test_100_ep1, acc_test_100_rest]
coh = [
    [coh_model_0_ep1, coh_model_0_rest, coh_model_50_ep1, coh_model_50_rest, coh_model_100_ep1, coh_model_100_rest],
    [coh_cls_0_ep1, coh_cls_0_rest, coh_cls_50_ep1, coh_cls_50_rest, coh_cls_100_ep1, coh_cls_100_rest],
    [coh_mid_0_ep1, coh_mid_0_rest, coh_mid_50_ep1, coh_mid_50_rest, coh_mid_100_ep1, coh_mid_100_rest],
    [coh_first_0_ep1, coh_first_0_rest, coh_first_50_ep1, coh_first_50_rest, coh_first_100_ep1, coh_first_100_rest],
]
coh_lt = [
    [coh_model_0_ep1_lt, coh_model_0_rest_lt, coh_model_50_ep1_lt, coh_model_50_rest_lt, coh_model_100_ep1_lt, coh_model_100_rest_lt],
    [coh_cls_0_ep1_lt, coh_cls_0_rest_lt, coh_cls_50_ep1_lt, coh_cls_50_rest_lt, coh_cls_100_ep1_lt, coh_cls_100_rest_lt],
    [coh_mid_0_ep1_lt, coh_mid_0_rest_lt, coh_mid_50_ep1_lt, coh_mid_50_rest_lt, coh_mid_100_ep1_lt, coh_mid_100_rest_lt],
    [coh_first_0_ep1_lt, coh_first_0_rest_lt, coh_first_50_ep1_lt, coh_first_50_rest_lt, coh_first_100_ep1_lt, coh_first_100_rest_lt],
]
# (top line colour, bottom line colour) of the reference lines per coherence row
ref_colors = [('0.55', '0.1'), ('0.1', '0.55'), ('0.55', '0.1'), ('0.1', '0.55')]


def xy(x, v, log=False):
    n = min(len(x), len(v))
    y = np.array(v[:n], dtype=float)
    return x[:n], (10 ** y if log else y)


mk = dict(marker='o', ls='none', ms=3.6, mew=0)

fig = plt.figure(figsize=(10.51, 10.53), dpi=100)
gs = fig.add_gridspec(6, 6, left=0.058, right=0.997, top=0.965, bottom=0.0285,
                      wspace=0.22, hspace=0.22)

for c in range(6):
    rest = c % 2 == 1
    x = epochs if rest else steps
    xm = epochs_mid if rest else steps_mid
    for r in range(6):
        ax = fig.add_subplot(gs[r, c])
        if rest:
            for e in lr_epochs:
                ax.axvline(e, color='0.55', lw=1, alpha=0.5, zorder=0)
        if r < 2:
            tr, te = (loss_train, loss_test) if r == 0 else (acc_train, acc_test)
            ax.plot(*xy(x, tr[c]), color='C0', label='Training', **mk)
            ax.plot(*xy(x, te[c]), color='C1', label='Test', **mk)
            loc = 'upper left' if c == 5 else 'upper right'
            if r == 1 and c == 3:
                loc = 'center right'
            ax.legend(loc=loc, fontsize=7)
            if r == 0:
                ax.set_ylim(0, 16)
                ax.set_yticks(np.arange(0, 15.1, 2.5))
            else:
                ax.set_ylim(0, 100)
                ax.set_yticks(np.arange(0, 101, 20))
        else:
            k = r - 2
            top_c, bot_c = ref_colors[k]
            ax.set_yscale('symlog', linthresh=1)
            ax.hlines(coh_ceiling, x[0], x[-1], color=top_c, lw=1.3, zorder=1)
            ax.hlines(coh_floor, x[0], x[-1], color=bot_c, lw=1.0, zorder=1)
            ax.plot(*xy(xm, coh_lt[k][c], log=True), color='C0', alpha=0.12, **dict(mk, ms=4))
            ax.plot(*xy(x, coh[k][c], log=True), color='C0', **mk)
            ax.set_ylim(0, 8.5e4)
            ax.set_yticks([0, 1, 10, 100, 1e3, 1e4])
            ax.set_yticklabels(['0'] + ['$\\mathdefault{10^{%d}}$' % p for p in range(5)])
            ax.yaxis.set_minor_locator(plt.NullLocator())
        if rest:
            ax.set_xlim(-4.5, 94.5)
            ax.set_xticks([0, 20, 40, 60, 80])
        else:
            ax.set_xlim(-16, 325)
            ax.set_xticks([0, 100, 200, 300])
        ax.tick_params(labelsize=7.5, length=3, pad=2)
        if r == 0:
            ax.set_title(col_titles[c], fontsize=10.5, linespacing=1.0)
        if c == 0:
            ax.set_ylabel(row_labels[r], fontsize=10, linespacing=0.95, labelpad=3)
        if r == 5:
            ax.set_xlabel('epoch' if rest else 'step', fontsize=10, labelpad=0)

for xf in [377 / 1051, 717 / 1051]:
    fig.add_artist(plt.Line2D([xf, xf], [0, 1], transform=fig.transFigure,
                              color='0.78', lw=1.5))

fig.savefig('out.png', dpi=100)
